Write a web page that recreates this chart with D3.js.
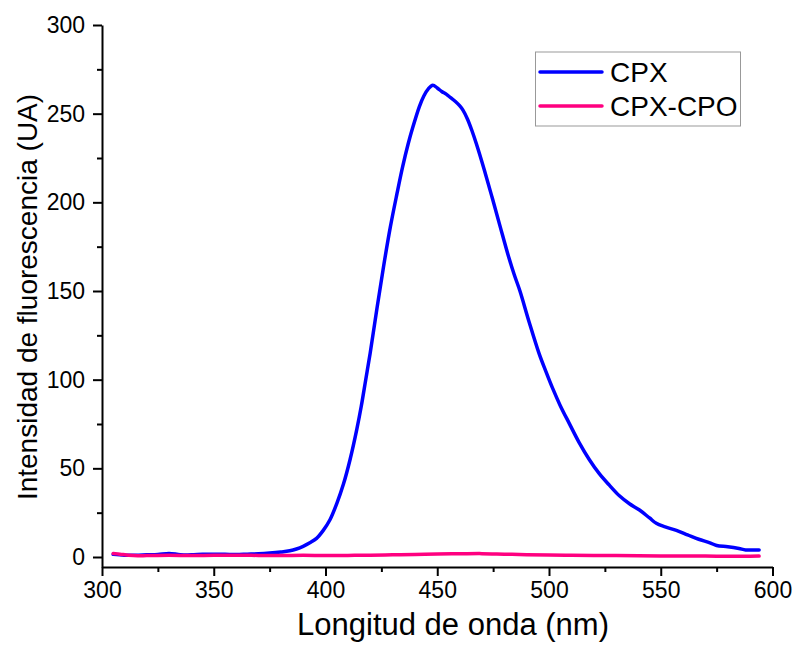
<!DOCTYPE html>
<html>
<head>
<meta charset="utf-8">
<script src="https://cdn.jsdelivr.net/npm/d3@7"></script>
<style>
  body { margin: 0; background: #fff; }
  text { font-family: "Liberation Sans", Arial, sans-serif; fill: #000; }
</style>
</head>
<body>
<div id="chart"></div>
<script>
// wavelengths (nm) and intensities
var cpxNm = [305, 310, 315, 320, 325, 330, 335, 340, 345, 350, 355, 360, 365, 370, 375, 380,
    384, 387, 390, 393, 396, 399, 402, 405, 408, 411, 414, 416, 418, 420, 423, 426, 429, 432,
    434.5, 437, 439, 442, 444, 446, 448, 450, 452, 454, 456, 458, 460, 461.5, 463.5, 465.5,
    467.5, 471, 474.5, 478, 482, 484.5, 487, 491, 495.5, 498.5, 501.5, 505, 509, 513.5, 518,
    522.5, 527, 531.5, 536, 540.5, 545, 548, 552, 557, 562, 567, 572, 575, 580, 585, 588, 594];
var cpxVal = [1.5, 1.0, 1.0, 1.2, 1.4, 2.0, 1.3, 1.2, 1.5, 1.5, 1.5, 1.4, 1.6, 1.8, 2.2, 2.8,
    3.5, 4.5, 6, 8, 10.5, 15, 21, 30, 41, 55, 72, 85, 100, 115, 140, 164, 186, 205,
    220, 233, 242, 254, 260, 264, 266, 264.5, 262.5, 261, 259, 257, 254.5, 252, 247, 240.5,
    233, 218.5, 203, 187, 169, 159, 150, 133, 115, 105, 95.5, 85.5, 75.5, 64.5, 55,
    47, 40.5, 34.5, 30, 26.5, 22, 19, 17, 15, 12.5, 10, 8, 6.5, 5.8, 4.8, 4, 4];

var cpoNm = [305, 308, 312, 316, 320, 330, 340, 350, 360, 370, 380, 390, 400, 410, 420, 430,
    440, 450, 460, 470, 480, 490, 500, 510, 520, 530, 540, 550, 560, 570, 580, 590, 594];
var cpoVal = [2.0, 1.6, 1.0, 0.7, 0.8, 1.0, 0.8, 1.0, 1.0, 0.9, 0.8, 1.0, 0.8, 0.9, 1.0, 1.2,
    1.4, 1.7, 1.8, 1.9, 1.6, 1.3, 1.1, 1.0, 0.9, 0.8, 0.7, 0.6, 0.5, 0.5, 0.4, 0.4, 0.5];

var seriesNames = ['CPX', 'CPX-CPO'];
var seriesColors = ['#0000ff', '#ff0080'];
var xTicks = [300, 350, 400, 450, 500, 550, 600];
var yTicks = [0, 50, 100, 150, 200, 250, 300];

dim = { 'width': 793, 'height': 651 };
var svg = d3.select('#chart').append('svg')
    .attr('width', dim.width)
    .attr('height', dim.height);

var xScale = d3.scaleLinear()
    .domain([300, 600])
    .range([102, 772.5]);

var yScale = d3.scaleLinear()
    .domain([-5.64, 300])
    .range([567, 25]);

// minor ticks first, then majors with labels
svg.append('g')
    .attr('transform', 'translate(0,567)')
    .call(d3.axisBottom(xScale).tickValues(d3.range(325, 600, 50)).tickSize(5).tickFormat(''))
    .call(g => g.select('.domain').remove());
var xAxis = svg.append('g')
    .attr('transform', 'translate(0,567)')
    .call(d3.axisBottom(xScale).tickValues(xTicks).tickSizeInner(9).tickSizeOuter(0).tickPadding(6));

svg.append('g')
    .attr('transform', 'translate(102,0)')
    .call(d3.axisLeft(yScale).tickValues(d3.range(25, 300, 50)).tickSize(5).tickFormat(''))
    .call(g => g.select('.domain').remove());
var yAxis = svg.append('g')
    .attr('transform', 'translate(102,0)')
    .call(d3.axisLeft(yScale).tickValues(yTicks).tickSizeInner(9).tickSizeOuter(0).tickPadding(8));

svg.selectAll('.tick line').attr('stroke', '#000').attr('stroke-width', 2);
svg.selectAll('.domain').attr('stroke', '#000').attr('stroke-width', 2);
svg.selectAll('.tick text')
    .style('font-family', '"Liberation Sans", Arial, sans-serif')
    .style('font-size', '23px')
    .attr('fill', '#000');

// axis titles
svg.append('text')
    .attr('x', 453)
    .attr('y', 635)
    .attr('text-anchor', 'middle')
    .style('font-size', '31px')
    .text('Longitud de onda (nm)');

svg.append('text')
    .attr('transform', 'translate(37,297) rotate(-90)')
    .attr('text-anchor', 'middle')
    .style('font-size', '28px')
    .text('Intensidad de fluorescencia (UA)');

var line = d3.line()
    .x(d => xScale(d[0]))
    .y(d => yScale(d[1]))
    .curve(d3.curveCatmullRom);

var series = [d3.zip(cpxNm, cpxVal), d3.zip(cpoNm, cpoVal)];

svg.selectAll('path.series')
    .data(series)
    .enter()
    .append('path')
    .attr('class', 'series')
    .attr('d', line)
    .attr('fill', 'none')
    .attr('stroke', (d, i) => seriesColors[i])
    .attr('stroke-width', 3.5)
    .attr('stroke-linejoin', 'round')
    .attr('stroke-linecap', 'round');

// legend
var legend = svg.append('g');
legend.append('rect')
    .attr('x', 535.5)
    .attr('y', 52)
    .attr('width', 205)
    .attr('height', 74)
    .attr('fill', '#fff')
    .attr('stroke', '#999')
    .attr('stroke-width', 1);

seriesNames.forEach(function(name, i) {
    var yy = 72 + i * 34;
    legend.append('line')
        .attr('x1', 540).attr('x2', 602)
        .attr('y1', yy).attr('y2', yy)
        .attr('stroke', seriesColors[i])
        .attr('stroke-width', 3.5)
        .attr('stroke-linecap', 'round');
    legend.append('text')
        .attr('x', 610)
        .attr('y', yy + 10)
        .style('font-size', '28px')
        .text(name);
});
</script>
</body>
</html>
